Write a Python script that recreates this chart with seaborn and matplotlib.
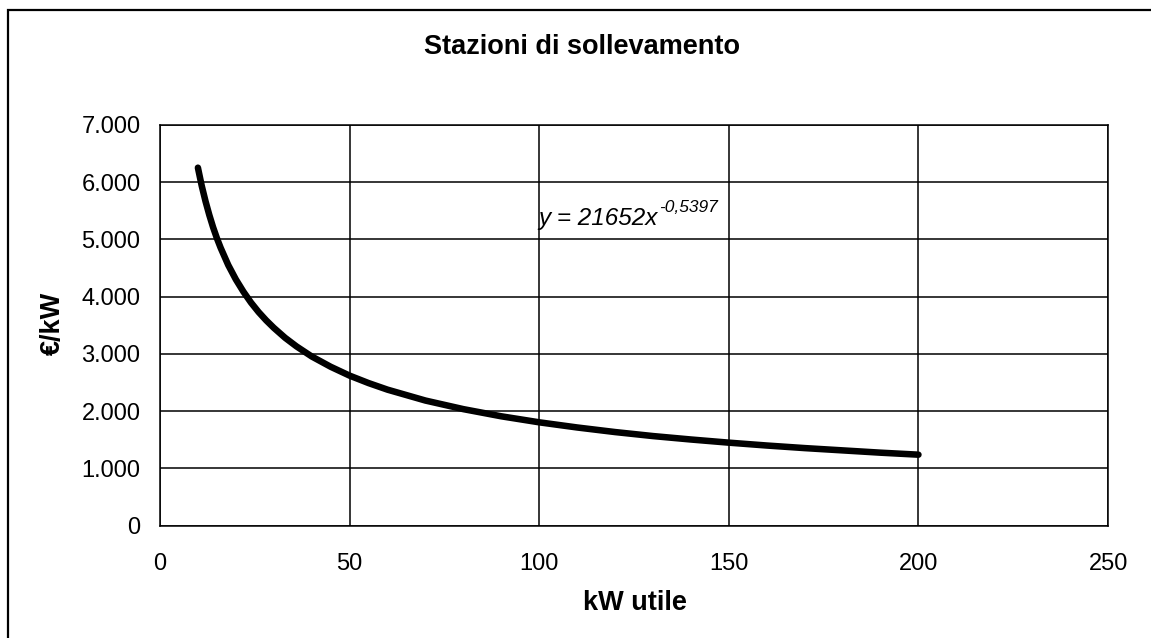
import numpy as np
import pandas as pd
import seaborn as sns
from matplotlib import pyplot as plt
from matplotlib.patches import Rectangle
from matplotlib.ticker import FuncFormatter

# values (kW utile -> €/kW)
kw_utile = [10, 11, 12, 13, 14, 15, 16, 18, 20, 22, 24, 26, 28, 30, 33, 36, 40, 45,
            50, 55, 60, 70, 80, 90, 100, 110, 120, 130, 140, 150, 160, 170, 180, 190, 200]
euro_kw = [6250, 5935, 5665, 5425, 5210, 5020, 4850, 4550, 4300, 4085, 3895, 3730, 3585, 3455,
           3280, 3130, 2955, 2775, 2620, 2490, 2375, 2185, 2035, 1910, 1805, 1715, 1635, 1565,
           1505, 1450, 1400, 1355, 1315, 1275, 1240]

x_ticks = [0, 50, 100, 150, 200, 250]
y_ticks = [0, 1000, 2000, 3000, 4000, 5000, 6000, 7000]

sns.set_style("white")
plt.rcParams["font.family"] = ["Liberation Sans", "DejaVu Sans"]
plt.rcParams["text.color"] = "black"

df = pd.DataFrame({"kw": kw_utile, "eur": euro_kw})

fig = plt.figure(figsize=(11.51, 6.38), dpi=100)
ax = fig.add_axes([0.1390, 0.1760, 0.8237, 0.6285])

sns.lineplot(data=df, x="kw", y="eur", ax=ax, color="black", linewidth=4.7,
             solid_capstyle="round", solid_joinstyle="round")

ax.set_xlim(0, 250)
ax.set_ylim(0, 7000)
ax.set_xticks(x_ticks)
ax.set_yticks(y_ticks)
ax.yaxis.set_major_formatter(FuncFormatter(lambda v, _: f"{int(v):,}".replace(",", ".")))
ax.grid(True, color="black", linewidth=1.1)
ax.set_axisbelow(True)
for side in ["left", "bottom", "top", "right"]:
    ax.spines[side].set_color("black")
    ax.spines[side].set_linewidth(1.1)
ax.tick_params(axis="both", direction="out", length=6, width=1.1, color="black",
               labelsize=17, labelcolor="black")
ax.tick_params(axis="x", pad=14)
ax.tick_params(axis="y", pad=8)
ax.set_xlabel("")
ax.set_ylabel("")

# trendline equation
eq = ax.text(99.8, 5250, "y = 21652x", fontsize=17.5, style="italic", ha="left", va="baseline",
             color="black")
ax.annotate("-0,5397", xy=(1, 1), xycoords=eq, xytext=(1, -6), textcoords="offset points",
            fontsize=12.5, style="italic", ha="left", va="bottom", color="black")

fig.text(0.5057, 0.9263, "Stazioni di sollevamento", fontsize=19.5, fontweight="bold",
         ha="center", va="center", color="black")
fig.text(0.5517, 1 - 603 / 638, "kW utile", fontsize=19.5, fontweight="bold",
         ha="center", va="center", color="black")
fig.text(53 / 1151, 1 - 323 / 638, "€/kW", fontsize=19.5, fontweight="bold",
         ha="center", va="center", rotation=90, color="black")

# chart frame (only top/left edges fall inside the image)
fig.patches.append(Rectangle((8 / 1151, -0.1), 1.2, 1 - 10 / 638 + 0.1, transform=fig.transFigure,
                             fill=False, edgecolor="black", linewidth=1.6, clip_on=False))

fig.savefig("out.png", dpi=100)
